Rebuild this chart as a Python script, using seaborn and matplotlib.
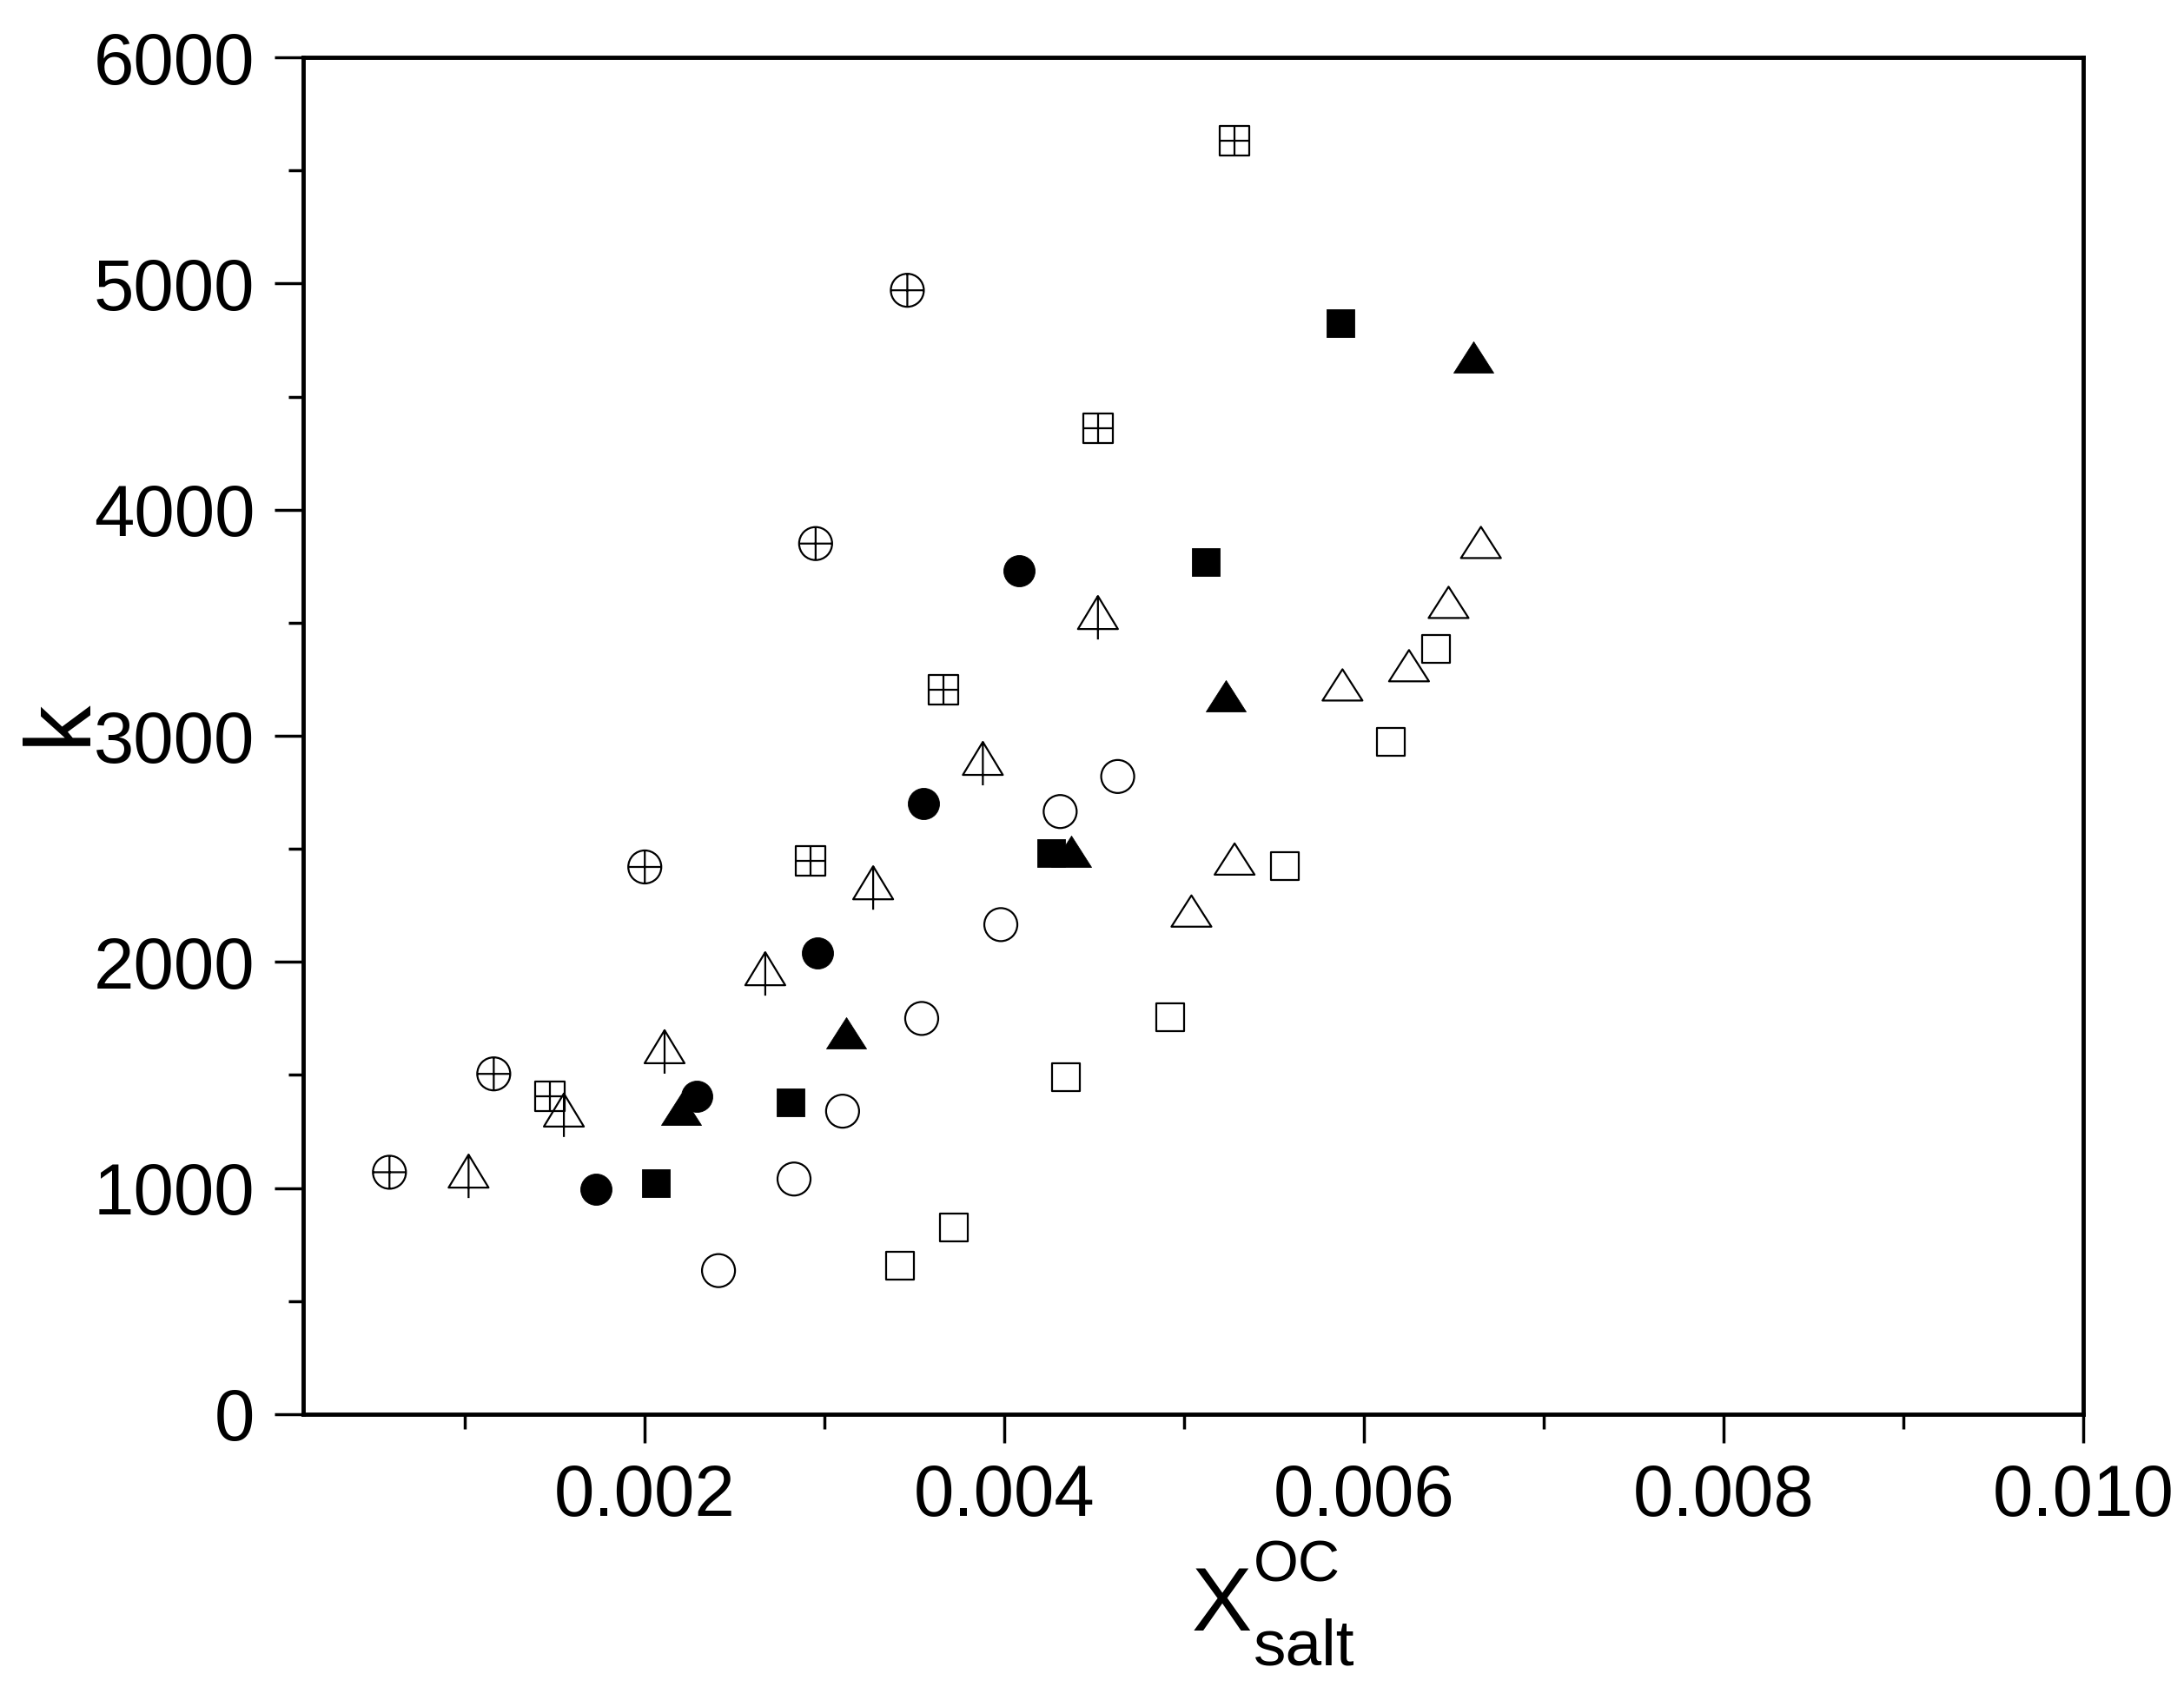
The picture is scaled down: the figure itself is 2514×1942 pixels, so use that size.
import numpy as np
import matplotlib
matplotlib.use('Agg')
import matplotlib.pyplot as plt
import seaborn as sns
from matplotlib.path import Path
from matplotlib.markers import MarkerStyle
from matplotlib.ticker import MultipleLocator, FormatStrFormatter

# data (x = X_salt^OC, y = k)
circ_plus_x = [0.00058, 0.00116, 0.00200, 0.00295, 0.00346]
circ_plus_k = [1070, 1505, 2420, 3850, 4970]

sq_plus_x = [0.00147, 0.00292, 0.00366, 0.00452, 0.00528]
sq_plus_k = [1405, 2445, 3205, 4360, 5630]

tree_tri_x = [0.00102, 0.00155, 0.00211, 0.00267, 0.00327, 0.00388, 0.00452]
tree_tri_k = [1075, 1345, 1625, 1970, 2350, 2900, 3545]

filled_circ_x = [0.00173, 0.00229, 0.00296, 0.00355, 0.00408]
filled_circ_k = [995, 1405, 2040, 2700, 3730]

filled_sq_x = [0.00206, 0.00281, 0.00426, 0.00512, 0.00587]
filled_sq_k = [1020, 1380, 2480, 3770, 4825]

filled_tri_x = [0.00220, 0.00312, 0.00437, 0.00523, 0.00661]
filled_tri_k = [1350, 1685, 2490, 3175, 4675]

open_circ_x = [0.00241, 0.00283, 0.00310, 0.00354, 0.00398, 0.00431, 0.00463]
open_circ_k = [635, 1040, 1340, 1750, 2165, 2665, 2820]

open_sq_x = [0.00342, 0.00372, 0.00434, 0.00492, 0.00556, 0.00615, 0.00640]
open_sq_k = [655, 825, 1490, 1755, 2425, 2975, 3385]

open_tri_x = [0.00504, 0.00528, 0.00588, 0.00625, 0.00647, 0.00665]
open_tri_k = [2225, 2455, 3225, 3310, 3590, 3855]

x_ticks = [0.002, 0.004, 0.006, 0.008, 0.010]
k_ticks = [0, 1000, 2000, 3000, 4000, 5000, 6000]

DPI = 100
W, H = 2514, 1942
M, L, C = Path.MOVETO, Path.LINETO, Path.CLOSEPOLY

sns.set_theme(style='ticks')
plt.rcParams['font.family'] = ['Liberation Sans', 'DejaVu Sans']
plt.rcParams['text.color'] = 'black'


def marker(verts, codes):
    # marker shapes given in pixels; return style + matching scatter size
    verts = np.asarray(verts, float)
    s = (2 * np.abs(verts).max() * 72 / DPI) ** 2
    return MarkerStyle(Path(verts, codes)), s


def circle(r, cross=False):
    c = Path.unit_circle()
    v = list(c.vertices * r)
    cd = list(c.codes)
    if cross:
        v += [[-r, 0], [r, 0], [0, -r], [0, r]]
        cd += [M, L, M, L]
    return marker(v, cd)


def square(h, cross=False):
    v = [[-h, -h], [h, -h], [h, h], [-h, h], [-h, -h]]
    cd = [M, L, L, L, C]
    if cross:
        v += [[-h, 0], [h, 0], [0, -h], [0, h]]
        cd += [M, L, M, L]
    return marker(v, cd)


def triangle(w, t, stem=0):
    v = [[0, t], [-w, -t], [w, -t], [0, t]]
    cd = [M, L, L, C]
    if stem:
        v += [[0, t], [0, -t - stem]]
        cd += [M, L]
    return marker(v, cd)


series = [
    (circ_plus_x, circ_plus_k, circle(19, cross=True), False),
    (sq_plus_x, sq_plus_k, square(17, cross=True), False),
    (tree_tri_x, tree_tri_k, triangle(23, 19, stem=12), False),
    (filled_circ_x, filled_circ_k, circle(18), True),
    (filled_sq_x, filled_sq_k, square(16), True),
    (filled_tri_x, filled_tri_k, triangle(23, 18), True),
    (open_circ_x, open_circ_k, circle(19), False),
    (open_sq_x, open_sq_k, square(16), False),
    (open_tri_x, open_tri_k, triangle(23, 18), False),
]

fig = plt.figure(figsize=(W / DPI, H / DPI), dpi=DPI)
ax = fig.add_axes([0.1388, 0.1617, 0.8151, 0.8043])

for xs, ks, (mk, s), filled in series:
    sns.scatterplot(x=xs, y=ks, ax=ax, marker=mk, s=s, color='black',
                    facecolor='black' if filled else 'none',
                    edgecolor='black', linewidth=0.6 if filled else 1.6,
                    zorder=3)

ax.set_xlim(0.0001, 0.010)
ax.set_ylim(0, 6000)
ax.set_xticks(x_ticks)
ax.set_yticks(k_ticks)
ax.xaxis.set_minor_locator(MultipleLocator(0.001))
ax.yaxis.set_minor_locator(MultipleLocator(500))
ax.xaxis.set_major_formatter(FormatStrFormatter('%.3f'))
ax.yaxis.set_major_formatter(FormatStrFormatter('%d'))

for sp in ax.spines.values():
    sp.set_visible(True)
    sp.set_color('black')
    sp.set_linewidth(3.5)

ax.tick_params(which='major', direction='out', length=23.5, width=2.5,
               color='black', labelsize=60, labelcolor='black', pad=16.5,
               top=False, right=False)
ax.tick_params(which='minor', direction='out', length=12, width=2.5,
               color='black', top=False, right=False)

ax.set_ylabel('k', fontsize=77, color='black')
ax.yaxis.set_label_coords(-0.112, 0.51)

# x label: X with superscript OC and subscript salt
ax.set_xlabel('')
fig.text(1372 / W, 1 - 1877 / H, 'X', fontsize=75, color='black',
         ha='left', va='baseline')
fig.text(1443 / W, 1 - 1820 / H, 'OC', fontsize=48, color='black',
         ha='left', va='baseline')
fig.text(1443 / W, 1 - 1916 / H, 'salt', fontsize=54, color='black',
         ha='left', va='baseline')

fig.savefig('out.png', dpi=DPI, facecolor='white')
